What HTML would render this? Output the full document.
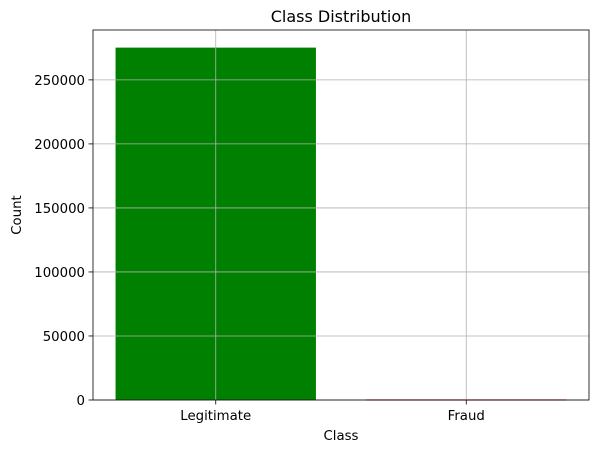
<!DOCTYPE html>
<html><head><meta charset="utf-8"><style>
body{margin:0;background:#fff;}
svg text{font-family:"DejaVu Sans","Liberation Sans",sans-serif;}
</style></head><body>
<svg id="chart" width="598" height="453" viewBox="0 0 598 453" xmlns="http://www.w3.org/2000/svg">
<rect width="598" height="453" fill="#fff"/>
<text x="341" y="22" font-size="16" text-anchor="middle">Class Distribution</text>
<g id="bars"></g>
<g id="grid"></g>
<g id="axes"></g>
<text x="341" y="440" font-size="13.3" text-anchor="middle">Class</text>
<text x="0" y="0" font-size="13.3" text-anchor="middle" transform="translate(21,215) rotate(-90)">Count</text>
</svg>
<script>
const categories = ["Legitimate", "Fraud"];
const counts = [275190, 492];
const colors = ["#008000", "#ff0000"];
const yTicks = [0, 50000, 100000, 150000, 200000, 250000];

const L = 93, R = 589, T = 30, B = 400;
const NS = "http://www.w3.org/2000/svg";
const ymax = Math.max(...counts) * 1.05;
const y = v => B - v / ymax * (B - T);
const xmin = -0.49, xmaxv = categories.length - 1 + 0.49;
const x = i => L + (i - xmin) / (xmaxv - xmin) * (R - L);
const bw = 0.8 * (R - L) / (xmaxv - xmin);

function mk(tag, attrs, parent) {
  const e = document.createElementNS(NS, tag);
  for (const k in attrs) e.setAttribute(k, attrs[k]);
  parent.appendChild(e);
  return e;
}
const bars = document.getElementById("bars");
const grid = document.getElementById("grid");
const axes = document.getElementById("axes");

categories.forEach((c, i) => {
  const r = mk("rect", {x: x(i) - bw / 2, y: y(counts[i]), width: bw, height: Math.max(B - y(counts[i]), 1.2), fill: colors[i]}, bars);
  
  
  const g = mk("line", {x1: x(i), x2: x(i), y1: T, y2: B, stroke: "#b0b0b0", "stroke-width": 0.8}, grid);
  
  
  const tk = mk("line", {x1: x(i), x2: x(i), y1: B, y2: B + 4.5, stroke: "#000", "stroke-width": 0.8}, axes);
  
  
  const t = mk("text", {x: x(i), y: B + 20, "font-size": 13.3, "text-anchor": "middle"}, axes);
  t.textContent = c;
  
  
});
yTicks.forEach(v => {
  const g = mk("line", {x1: L, x2: R, y1: y(v), y2: y(v), stroke: "#b0b0b0", "stroke-width": 0.8}, grid);
  
  
  const tk = mk("line", {x1: L - 4.5, x2: L, y1: y(v), y2: y(v), stroke: "#000", "stroke-width": 0.8}, axes);
  
  
  const t = mk("text", {x: L - 8, y: y(v) + 5, "font-size": 13.3, "text-anchor": "end"}, axes);
  t.textContent = v;
  
  
});
const frame = mk("rect", {x: L, y: T, width: R - L, height: B - T, fill: "none", stroke: "#000", "stroke-width": 0.8}, axes);


</script>
</body></html>
